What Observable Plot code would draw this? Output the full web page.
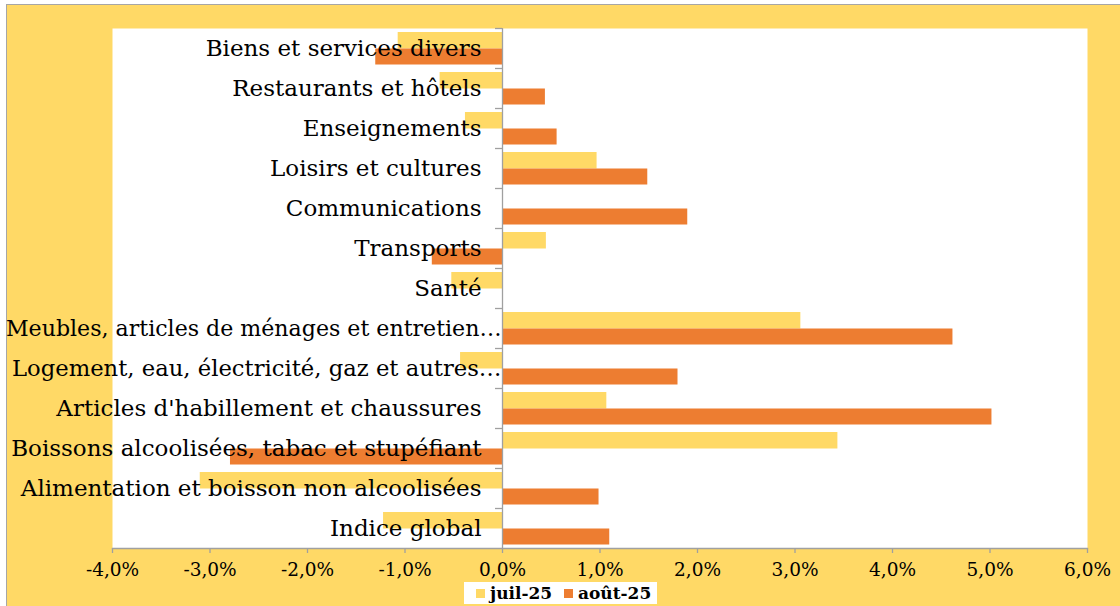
<!DOCTYPE html>
<html>
<head>
<meta charset="utf-8">
<script src="https://cdn.jsdelivr.net/npm/d3@7"></script>
<script src="https://cdn.jsdelivr.net/npm/@observablehq/plot@0.6"></script>
<style>
  html, body { margin: 0; padding: 0; }
  body { width: 1120px; height: 606px; overflow: hidden; background: #ffffff; position: relative; font-family: "DejaVu Serif", serif; }
  #bg { position: absolute; left: 6px; top: 4px; right: 0; bottom: 0; background: #FFD966; border-top: 1px solid #a6a6a6; border-left: 1px solid #a6a6a6; }
  #chart { position: absolute; left: 0; top: 0; width: 1120px; height: 606px; }
  #chart svg { display: block; max-width: none; }
  #legend { position: absolute; left: 464px; top: 582px; width: 193px; height: 22px; background: #ffffff; font-family: "DejaVu Serif", serif; font-weight: bold; font-size: 17px; color: #000; }
  #legend .sw { position: absolute; top: 7px; width: 9px; height: 9px; }
  #legend .lab { position: absolute; top: 0; line-height: 22px; white-space: nowrap; }
</style>
</head>
<body>
<div id="bg"></div>
<div id="chart"></div>
<div id="legend"></div>
<script>
// Categories listed bottom to top (as in the source chart)
const categories = [
  "Indice global",
  "Alimentation et boisson non alcoolisées",
  "Boissons alcoolisées, tabac et stupéfiant",
  "Articles d'habillement et chaussures",
  "Logement, eau, électricité, gaz et autres…",
  "Meubles, articles de ménages et entretien…",
  "Santé",
  "Transports",
  "Communications",
  "Loisirs et cultures",
  "Enseignements",
  "Restaurants et hôtels",
  "Biens et services divers"
];
const seriesNames = ["juil-25", "août-25"];
const seriesColors = ["#FFD966", "#ED7D31"];
// values in percent
const juil25 = [-1.22, -3.10, 3.44, 1.07, -0.43, 3.06, -0.52, 0.45, 0.00, 0.97, -0.38, -0.64, -1.07];
const aout25 = [1.10, 0.99, -2.79, 5.02, 1.80, 4.62, 0.00, -0.72, 1.90, 1.49, 0.56, 0.44, -1.30];
const xTicks = [-4, -3, -2, -1, 0, 1, 2, 3, 4, 5, 6];

const rowsJuil = categories.map((c, i) => ({cat: c, serie: seriesNames[0], value: juil25[i]}));
const rowsAout = categories.map((c, i) => ({cat: c, serie: seriesNames[1], value: aout25[i]}));
const fmt = d => d.toFixed(1).replace(".", ",") + "%";
const truncated = categories.filter(c => c.endsWith("…"));
const plain = categories.filter(c => !c.endsWith("…"));

const chart = Plot.plot({
  width: 1120,
  height: 600,
  marginLeft: 112,
  marginRight: 33,
  marginTop: 28,
  marginBottom: 52,
  style: {background: "transparent", color: "#000", fontFamily: "DejaVu Serif, serif", overflow: "visible", maxWidth: "none"},
  x: {domain: [-4, 6], axis: null, label: null},
  y: {domain: categories.slice().reverse(), padding: 0, axis: null, label: null},
  marks: [
    Plot.frame({fill: "#ffffff", stroke: null}),
    Plot.barX(rowsJuil, {x: "value", y: "cat", fill: seriesColors[0], insetTop: 4, insetBottom: 19.5}),
    Plot.barX(rowsAout, {x: "value", y: "cat", fill: seriesColors[1], insetTop: 20.5, insetBottom: 3.5}),
    Plot.ruleX([0], {stroke: "#a0a0a0", strokeWidth: 1.3}),
    Plot.ruleY(categories, {y: d => d, x1: 0, x2: 0, insetLeft: -7, dy: -20, stroke: "#a0a0a0", strokeWidth: 1.3}),
    Plot.frame({anchor: "bottom", stroke: "#a0a0a0", strokeWidth: 1.3}),
    Plot.axisX({ticks: xTicks, tickSize: 5, stroke: "#a0a0a0", strokeWidth: 1.3, tickFormat: () => "", label: null}),
    Plot.axisX({ticks: xTicks, tickSize: 0, tickPadding: 14, tickFormat: fmt, fontSize: 18.5, fill: "#000", label: null}),
    Plot.text(plain, {y: d => d, x: d => 0, dx: -21, textAnchor: "end", fontSize: 23, fill: "#000"}),
    Plot.text(truncated, {y: d => d, x: d => 0, dx: -1, textAnchor: "end", fontSize: d => d.startsWith("Meubles") ? 22.1 : 22.7, fill: "#000"})
  ]
});
document.getElementById("chart").appendChild(chart);

const legend = document.getElementById("legend");
const swLeft = [12, 100];
const labLeft = [26, 114];
seriesNames.forEach((s, i) => {
  const sw = document.createElement("span");
  sw.className = "sw";
  sw.style.left = swLeft[i] + "px";
  sw.style.background = seriesColors[i];
  const t = document.createElement("span");
  t.className = "lab";
  t.style.left = labLeft[i] + "px";
  t.textContent = s;
  legend.appendChild(sw);
  legend.appendChild(t);
});
</script>
</body>
</html>
